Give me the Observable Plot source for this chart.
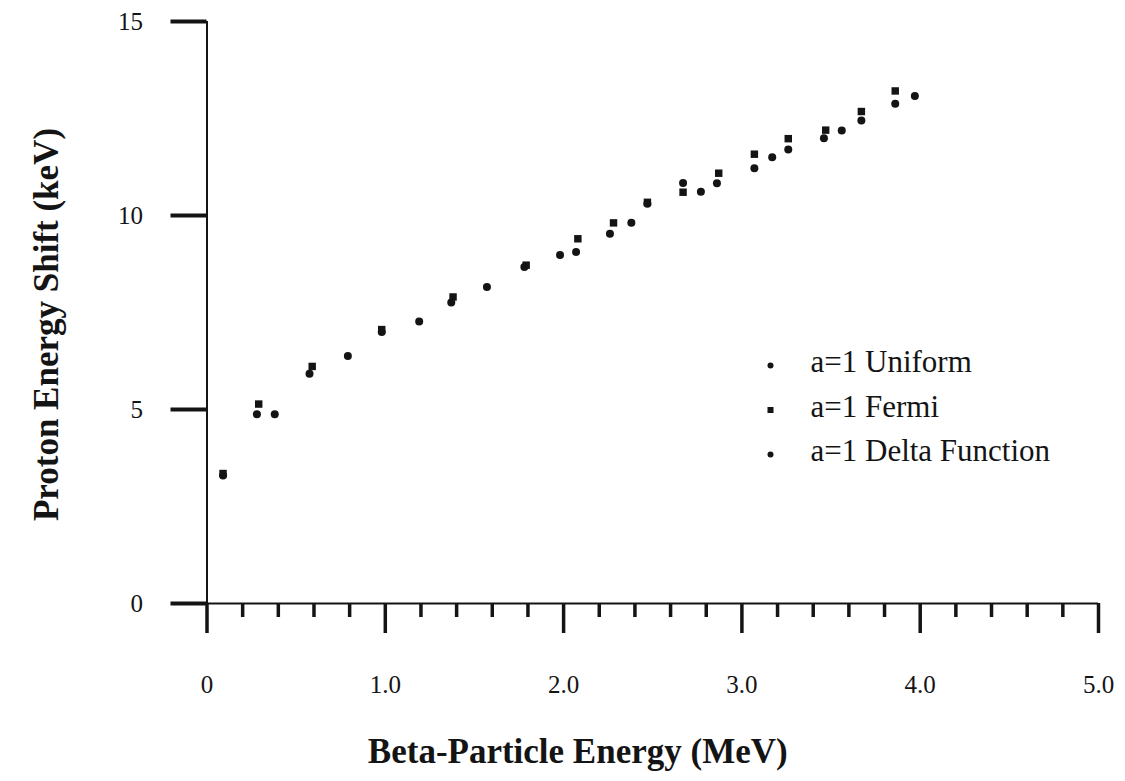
<!DOCTYPE html>
<html><head><meta charset="utf-8">
<script src="https://cdn.jsdelivr.net/npm/d3@7"></script>
<script src="https://cdn.jsdelivr.net/npm/@observablehq/plot@0.6"></script>
<style>
html,body{margin:0;padding:0;background:#fff;}
#chart{width:1125px;height:781px;}
svg{display:block;}
</style></head><body><div id="chart"></div>
<script>
// ---- data ----
const uniformE     = [0.09, 0.28, 0.575, 0.98, 1.37, 1.78, 2.07, 2.26, 2.47, 2.67, 2.86, 3.07, 3.26, 3.46, 3.67, 3.86];
const uniformShift = [3.30, 4.88, 5.92, 7.00, 7.76, 8.67, 9.06, 9.53, 10.30, 10.84, 10.83, 11.22, 11.70, 11.99, 12.45, 12.88];
const fermiE       = [0.09, 0.29, 0.59, 0.98, 1.38, 1.79, 2.08, 2.28, 2.47, 2.67, 2.87, 3.07, 3.26, 3.47, 3.67, 3.86];
const fermiShift   = [3.35, 5.14, 6.11, 7.06, 7.90, 8.72, 9.40, 9.81, 10.34, 10.60, 11.09, 11.58, 11.98, 12.20, 12.68, 13.21];
const deltaE       = [0.38, 0.79, 1.19, 1.57, 1.98, 2.38, 2.77, 3.17, 3.56, 3.97];
const deltaShift   = [4.88, 6.38, 7.27, 8.16, 8.98, 9.81, 10.61, 11.50, 12.19, 13.08];

const seriesNames   = ["a=1 Uniform", "a=1 Fermi", "a=1 Delta Function"];
const seriesSymbols = ["circle", "square", "circle"];

const majorTicksX  = [0, 1, 2, 3, 4, 5];
const xTickLabels  = ["0", "1.0", "2.0", "3.0", "4.0", "5.0"];
const minorTicksX  = [0.2, 0.4, 0.6, 0.8, 1.2, 1.4, 1.6, 1.8, 2.2, 2.4, 2.6, 2.8, 3.2, 3.4, 3.6, 3.8, 4.2, 4.4, 4.6, 4.8];
const yTicks       = [0, 5, 10, 15];
const yTickLabels  = ["0", "5", "10", "15"];

const xLabel = "Beta-Particle Energy (MeV)";
const yLabel = "Proton Energy Shift (keV)";

// ---- build table ----
const toRows = (xs, ys, series) => xs.map((e, i) => ({e, shift: ys[i], series}));
const uniformRows = toRows(uniformE, uniformShift, seriesNames[0]);
const fermiRows   = toRows(fermiE, fermiShift, seriesNames[1]);
const deltaRows   = toRows(deltaE, deltaShift, seriesNames[2]);

const ink = "#141414";
const serif = "'Liberation Serif', 'Times New Roman', Times, serif";

const W = 1125, H = 781;
const mL = 206.5, mR = 27, mT = 21, mB = 178;

const legendMarks = seriesNames.flatMap((name, i) => [
  Plot.dot([name], {frameAnchor: "top-left", dx: 770 - mL, dy: 365 - mT + i * 44.5,
    symbol: seriesSymbols[i], r: seriesSymbols[i] === "square" ? 3.4 : 3, fill: ink, stroke: null}),
  Plot.text([name], {frameAnchor: "top-left", dx: 810 - mL, dy: 362 - mT + i * 44.5,
    text: d => d, textAnchor: "start", lineAnchor: "middle", fontSize: 31, fill: ink})
]);

const chart = Plot.plot({
  width: W, height: H,
  marginLeft: mL, marginRight: mR, marginTop: mT, marginBottom: mB,
  style: {fontFamily: serif, color: ink, background: "#fff", overflow: "visible"},
  x: {domain: [0, 5], label: null},
  y: {domain: [0, 15], label: null},
  marks: [
    Plot.ruleY([0], {x1: 0, x2: 5, stroke: ink, strokeWidth: 2}),
    Plot.ruleX([0], {y1: 0, y2: 15, stroke: ink, strokeWidth: 2}),
    Plot.axisX({ticks: minorTicksX, tickSize: 14, tickFormat: () => "", strokeWidth: 3.5, label: null}),
    Plot.axisX({ticks: majorTicksX, tickSize: 30, tickPadding: 42, strokeWidth: 3.5, label: null,
      tickFormat: d => xTickLabels[majorTicksX.indexOf(d)], fontSize: 25}),
    Plot.axisY({ticks: yTicks, tickSize: 36, tickPadding: 28, strokeWidth: 4, label: null,
      tickFormat: d => yTickLabels[yTicks.indexOf(d)], fontSize: 25}),
    Plot.dot(deltaRows, {x: "e", y: "shift", symbol: "circle", r: 4, fill: ink, stroke: null}),
    Plot.dot(uniformRows, {x: "e", y: "shift", symbol: "circle", r: 4, fill: ink, stroke: null}),
    Plot.dot(fermiRows, {x: "e", y: "shift", symbol: "square", r: 4.2, fill: ink, stroke: null}),
    ...legendMarks,
    Plot.text([xLabel], {frameAnchor: "bottom", dx: -75, dy: 148, text: d => d,
      textAnchor: "middle", lineAnchor: "middle",
      fontSize: 35, fontWeight: "bold", fill: ink}),
    Plot.text([yLabel], {frameAnchor: "left", rotate: -90, dx: -160.5, dy: 12, text: d => d,
      textAnchor: "middle", lineAnchor: "middle",
      fontSize: 35, fontWeight: "bold", fill: ink})
  ]
});
document.getElementById("chart").appendChild(chart);
</script>
</body></html>
